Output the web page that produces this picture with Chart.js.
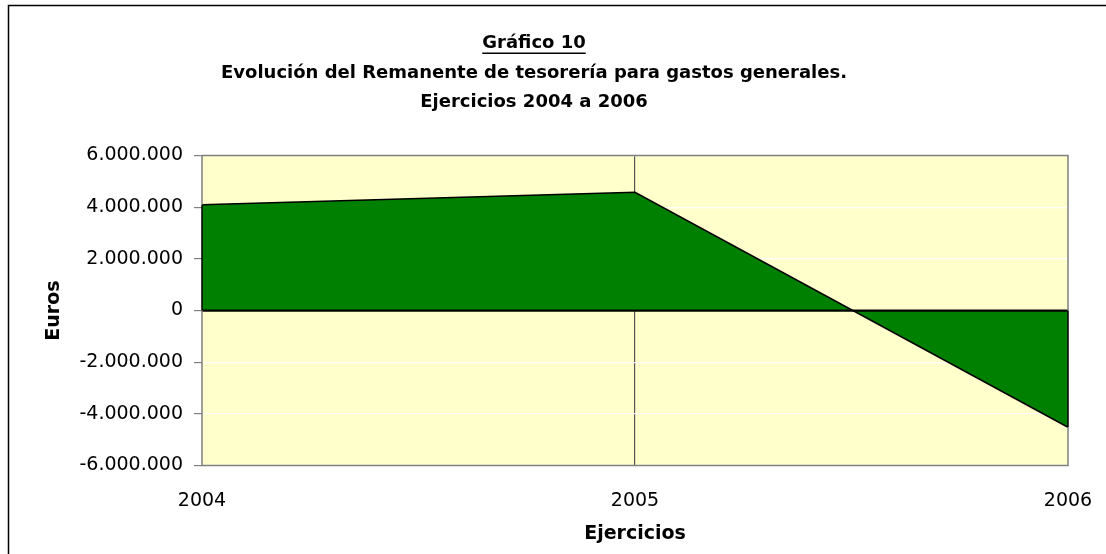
<!DOCTYPE html>
<html>
<head>
<meta charset="utf-8">
<script src="https://cdn.jsdelivr.net/npm/chart.js@4/dist/chart.umd.min.js"></script>
<style>
  html, body { margin: 0; padding: 0; background: #fff; }
  #wrap { width: 1106px; height: 554px; position: relative; }
</style>
</head>
<body>
<div id="wrap"><canvas id="remanenteChart"></canvas></div>
<script>
// Datos
const years = ['2004', '2005', '2006'];
const remanente = [4100000, 4580000, -4520000];
const titleLines = [
  'Gráfico 10',
  'Evolución del Remanente de tesorería para gastos generales.',
  'Ejercicios 2004 a 2006'
];
const yMin = -6000000;
const yMax = 6000000;
const yStep = 2000000;

const FONT = "'DejaVu Sans', Verdana, sans-serif";

function formatEuros(v) {
  const s = Math.abs(v).toString().replace(/\B(?=(\d{3})+(?!\d))/g, '.');
  return (v < 0 ? '-' : '') + s;
}

// fondo amarillo del área de trazado + marco
const plotBackground = {
  id: 'plotBackground',
  beforeDraw(chart) {
    const { ctx, chartArea: a } = chart;
    ctx.save();
    ctx.fillStyle = '#FFFFCC';
    ctx.fillRect(a.left, a.top, a.right - a.left, a.bottom - a.top);
    // borde exterior (izquierda y arriba)
    ctx.strokeStyle = '#000';
    ctx.lineWidth = 1.5;
    ctx.beginPath();
    ctx.moveTo(8.5, chart.height);
    ctx.lineTo(8.5, 5.5);
    ctx.lineTo(chart.width, 5.5);
    ctx.stroke();
    ctx.restore();
  },
  afterDatasetsDraw(chart) {
    const { ctx, chartArea: a, scales } = chart;
    const y0 = scales.y.getPixelForValue(0);
    const meta = chart.getDatasetMeta(0);
    const first = meta.data[0];
    const last = meta.data[meta.data.length - 1];
    ctx.save();
    // contorno del área: bordes verticales y línea de cero
    ctx.strokeStyle = '#000';
    ctx.lineWidth = 1.5;
    ctx.beginPath();
    ctx.moveTo(first.x, first.y);
    ctx.lineTo(first.x, y0);
    ctx.moveTo(last.x, last.y);
    ctx.lineTo(last.x, y0);
    ctx.stroke();
    ctx.lineWidth = 2.2;
    ctx.beginPath();
    ctx.moveTo(a.left, y0);
    ctx.lineTo(a.right, y0);
    ctx.stroke();
    // marco del área de trazado
    ctx.strokeStyle = '#808080';
    ctx.lineWidth = 1.5;
    ctx.beginPath();
    ctx.moveTo(a.left, a.top);
    ctx.lineTo(a.right, a.top);
    ctx.lineTo(a.right, y0);
    ctx.moveTo(a.right, Math.max(last.y, y0));
    ctx.lineTo(a.right, a.bottom);
    ctx.lineTo(a.left, a.bottom);
    ctx.lineTo(a.left, y0);
    ctx.moveTo(a.left, Math.min(first.y, y0));
    ctx.lineTo(a.left, a.top);
    ctx.stroke();
    ctx.restore();
  },
  afterDraw(chart) {
    // subrayado de la primera línea del título
    const t = chart.titleBlock;
    if (!t) return;
    const ctx = chart.ctx;
    ctx.save();
    ctx.font = 'bold 18px ' + FONT;
    const w = ctx.measureText(titleLines[0]).width;
    const cx = (t.left + t.right) / 2;
    const lh = 29.5;
    const yLine = t.top + 29 + lh / 2 + 9.5;
    ctx.strokeStyle = '#000';
    ctx.lineWidth = 1.5;
    ctx.beginPath();
    ctx.moveTo(cx - w / 2, yLine);
    ctx.lineTo(cx + w / 2, yLine);
    ctx.stroke();
    ctx.restore();
  }
};

const ctx = document.getElementById('remanenteChart').getContext('2d');

new Chart(ctx, {
  type: 'line',
  data: {
    labels: years,
    datasets: [{
      label: 'Remanente de tesorería',
      data: remanente,
      borderColor: '#000',
      borderWidth: 1.5,
      backgroundColor: '#008000',
      fill: 'origin',
      tension: 0,
      pointRadius: 0,
      pointHoverRadius: 0
    }]
  },
  options: {
    responsive: true,
    maintainAspectRatio: false,
    animation: false,
    layout: { padding: { left: 0, right: 38, top: 0, bottom: 0 } },
    plugins: {
      legend: { display: false },
      tooltip: { enabled: false },
      title: {
        display: true,
        text: titleLines,
        color: '#000',
        font: { family: FONT, size: 18, weight: 'bold', lineHeight: 1.64 },
        padding: { top: 29, bottom: 38 }
      }
    },
    scales: {
      x: {
        offset: false,
        afterFit(scale) {
          scale.height = 88.5;
          scale.paddingLeft = 0;
          scale.paddingRight = 0;
        },
        border: { display: false },
        grid: {
          drawTicks: false,
          color(c) { return c.index === 1 ? '#555' : 'rgba(0,0,0,0)'; },
          lineWidth: 1.2
        },
        ticks: {
          color: '#000',
          padding: 24,
          maxRotation: 0,
          font: { family: FONT, size: 19 }
        },
        title: {
          display: true,
          text: 'Ejercicios',
          color: '#000',
          font: { family: FONT, size: 19, weight: 'bold' },
          padding: { top: 0, bottom: 9 }
        }
      },
      y: {
        min: yMin,
        max: yMax,
        afterFit(scale) { scale.width = 202; },
        border: { display: false },
        grid: {
          color(c) { return c.tick && c.tick.value === 0 ? 'rgba(0,0,0,0)' : 'rgba(255,255,255,0.95)'; },
          tickColor: '#808080',
          tickLength: 8,
          lineWidth: 1.2
        },
        ticks: {
          stepSize: yStep,
          color: '#000',
          padding: 11,
          font: { family: FONT, size: 19 },
          callback(value) { return formatEuros(value); }
        },
        title: {
          display: true,
          text: 'Euros',
          color: '#000',
          font: { family: FONT, size: 19, weight: 'bold' },
          padding: { top: 43, bottom: 0 }
        }
      }
    }
  },
  plugins: [plotBackground]
});
</script>
</body>
</html>
